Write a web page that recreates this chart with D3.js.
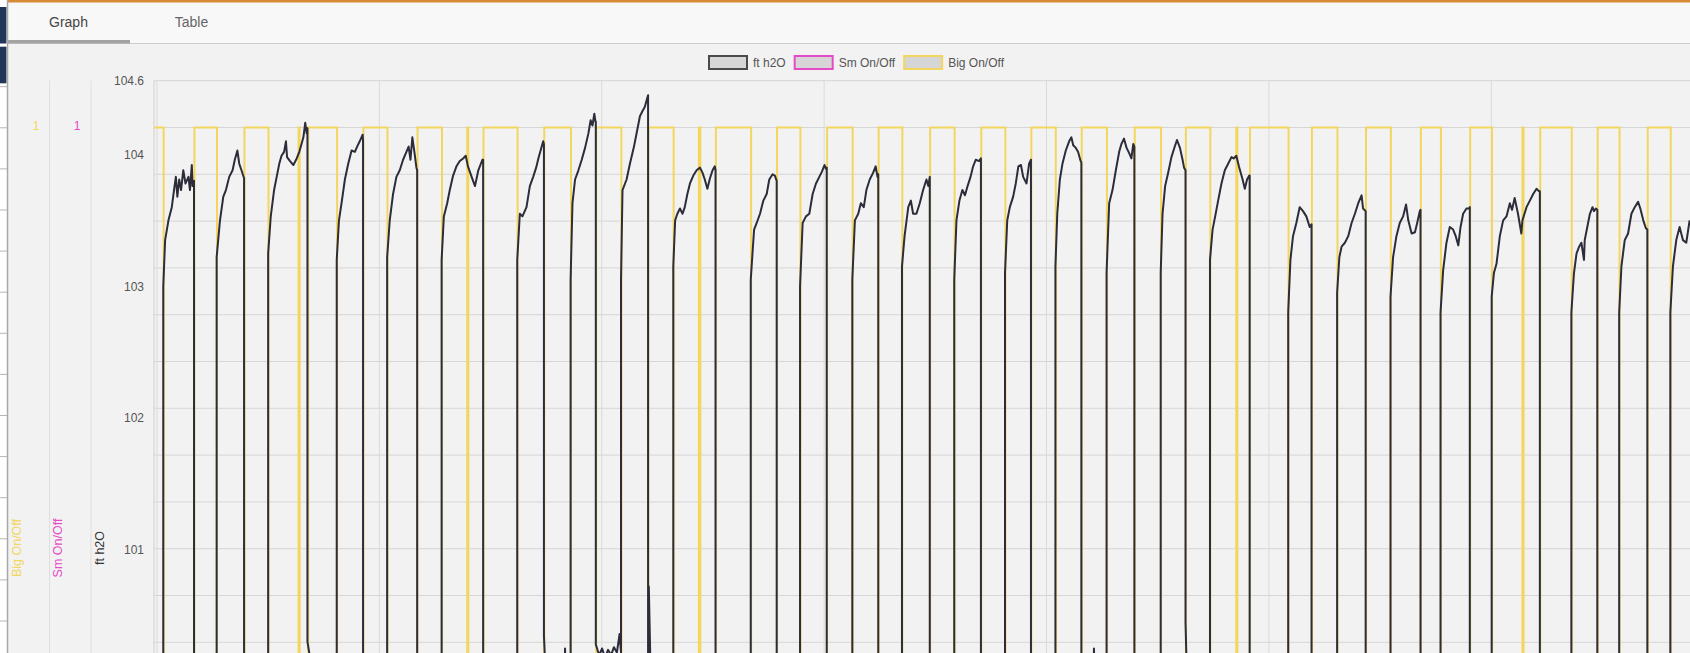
<!DOCTYPE html>
<html>
<head>
<meta charset="utf-8">
<script src="https://cdn.jsdelivr.net/npm/d3@7"></script>
<style>
body { margin: 0; background: #f2f2f2; overflow: hidden; font-family: "Liberation Sans", Arial, sans-serif; }
</style>
</head>
<body>
<svg id="chart" width="1690" height="653"></svg>
<script>
// series names + colours (legend order)
var categories = ["ft h2O", "Sm On/Off", "Big On/Off"];
var seriesColors = ["#2c2c3a", "#e64ac6", "#f3d65e"];
var tabs = ["Graph", "Table"];

// tick values
var ftTicks = [101, 102, 103, 104];
var onOffTicks = [1];
var timeTicks = [0, 60, 120, 180, 240, 300, 360, 420]; // minutes

// [minutes, ft h2O]
var ftH2O = [
    [-0.8, 99.9], [1.7, 99.9],
    [1.7, 103.0], [2.2, 103.35], [3.1, 103.5], [4.0, 103.6], [4.7, 103.75], [5.1, 103.83], [5.5, 103.68], [6.0, 103.81], [6.5, 103.73], [7.1, 103.88], [7.7, 103.78], [8.5, 103.83], [8.9, 103.73], [9.4, 103.92], [9.6, 103.76], [10.0, 103.8], [10.0, 99.9],
    [16.1, 99.9],
    [16.1, 103.22], [17.0, 103.5], [17.9, 103.68], [18.6, 103.73], [19.5, 103.83], [20.4, 103.88], [21.0, 103.96], [21.7, 104.03], [22.2, 103.93], [22.8, 103.88], [23.5, 103.82], [23.5, 99.9],
    [30.0, 99.9],
    [30.0, 103.25], [30.7, 103.53], [31.6, 103.73], [32.3, 103.83], [33.0, 103.93], [33.6, 103.99], [34.3, 104.02], [34.8, 104.1], [35.1, 103.98], [35.9, 103.95], [36.8, 103.92], [37.7, 103.97], [38.4, 104.02], [39.0, 104.08], [39.5, 104.13], [40.0, 104.24], [40.4, 104.16], [40.6, 104.2], [40.6, 100.3], [41.2, 100.2], [41.6, 99.9],
    [48.5, 99.9],
    [48.5, 103.2], [49.1, 103.5], [49.8, 103.63], [50.7, 103.81], [51.6, 103.93], [52.5, 104.03], [53.4, 104.02], [54.0, 104.06], [54.7, 104.1], [55.5, 104.15], [55.6, 104.1], [55.6, 99.9],
    [62.1, 99.9],
    [62.1, 103.22], [62.8, 103.5], [63.7, 103.7], [64.6, 103.83], [65.5, 103.88], [66.4, 103.96], [67.3, 104.02], [67.9, 104.06], [68.4, 103.96], [68.9, 104.13], [69.5, 104.01], [70.0, 103.9], [70.2, 103.88], [70.2, 99.9],
    [76.8, 99.9],
    [76.8, 103.2], [77.4, 103.53], [78.3, 103.63], [79.0, 103.73], [79.9, 103.84], [80.8, 103.91], [81.7, 103.95], [82.6, 103.97], [83.3, 103.99], [83.9, 103.91], [84.9, 103.83], [85.8, 103.76], [86.7, 103.88], [87.8, 103.96], [88.0, 103.96], [88.0, 99.9],
    [97.2, 99.9],
    [97.2, 103.2], [97.9, 103.55], [98.6, 103.53], [99.7, 103.6], [100.6, 103.76], [101.5, 103.83], [102.3, 103.9], [102.9, 103.97], [103.8, 104.06], [104.2, 104.1], [104.4, 104.08], [104.4, 100.35], [105.1, 99.9],
    [109.9, 99.9], [110.1, 100.25], [110.3, 99.9],
    [111.6, 99.9],
    [111.6, 103.05], [112.1, 103.63], [112.8, 103.81], [113.7, 103.88], [114.6, 103.96], [115.5, 104.05], [116.4, 104.16], [117.0, 104.26], [117.5, 104.22], [118.0, 104.31], [118.3, 104.25], [118.4, 104.25], [118.4, 100.28], [119.3, 100.2], [120.1, 100.25], [120.9, 100.18], [121.7, 100.24], [122.5, 100.2], [123.3, 100.26], [124.1, 100.22], [124.8, 100.36], [125.2, 100.22],
    [125.2, 103.05], [125.6, 103.73], [126.7, 103.81], [127.6, 103.93], [128.7, 104.06], [129.6, 104.19], [130.3, 104.29], [131.0, 104.33], [131.6, 104.36], [132.3, 104.43], [132.5, 104.45], [132.5, 99.9], [132.7, 100.72], [133.3, 99.9],
    [139.3, 99.9],
    [139.3, 103.15], [139.8, 103.5], [140.4, 103.55], [141.1, 103.59], [141.8, 103.55], [142.4, 103.6], [143.1, 103.7], [143.8, 103.78], [144.7, 103.84], [145.6, 103.88], [146.5, 103.9], [147.2, 103.86], [147.8, 103.81], [148.5, 103.74], [149.2, 103.82], [149.9, 103.88], [150.5, 103.91], [150.7, 103.88], [150.7, 99.9],
    [160.2, 99.9],
    [160.2, 103.05], [161.1, 103.43], [161.8, 103.48], [162.7, 103.55], [163.6, 103.65], [164.5, 103.7], [165.2, 103.81], [166.1, 103.85], [166.7, 103.84], [167.2, 103.8], [167.2, 99.9],
    [173.5, 99.9],
    [173.5, 103.0], [174.2, 103.48], [175.1, 103.53], [176.0, 103.55], [176.9, 103.7], [177.8, 103.78], [178.7, 103.83], [179.4, 103.87], [180.1, 103.92], [180.5, 103.89], [180.7, 103.9], [180.7, 99.9],
    [187.6, 99.9],
    [187.6, 103.05], [188.3, 103.5], [189.2, 103.55], [189.9, 103.63], [190.7, 103.6], [191.4, 103.73], [192.3, 103.81], [193.2, 103.86], [193.9, 103.91], [194.4, 103.83], [194.6, 103.85], [194.6, 99.9],
    [201.0, 99.9],
    [201.0, 103.15], [201.7, 103.38], [202.7, 103.6], [203.4, 103.65], [204.0, 103.55], [204.9, 103.55], [205.8, 103.63], [206.7, 103.73], [207.6, 103.81], [208.1, 103.76], [208.5, 103.83], [208.5, 99.9],
    [215.1, 99.9],
    [215.1, 103.05], [215.7, 103.5], [216.5, 103.65], [217.3, 103.73], [218.0, 103.69], [218.7, 103.76], [219.5, 103.83], [220.2, 103.91], [220.9, 103.96], [221.8, 103.95], [222.3, 103.97], [222.3, 99.9],
    [228.8, 99.9],
    [228.8, 103.1], [229.4, 103.5], [230.1, 103.6], [231.0, 103.68], [231.7, 103.78], [232.4, 103.91], [233.1, 103.92], [233.7, 103.83], [234.6, 103.78], [235.3, 103.93], [235.8, 103.96], [235.8, 99.9],
    [242.4, 99.9],
    [242.4, 103.15], [242.9, 103.55], [243.6, 103.81], [244.3, 103.93], [245.2, 104.03], [246.1, 104.1], [246.7, 104.13], [247.2, 104.07], [247.9, 104.05], [248.5, 104.02], [249.2, 103.95], [249.4, 103.94], [249.4, 99.9],
    [252.6, 99.9], [252.8, 100.25], [253.0, 99.9],
    [256.2, 99.9],
    [256.2, 103.1], [256.9, 103.63], [257.8, 103.73], [258.7, 103.88], [259.6, 104.02], [260.2, 104.08], [260.9, 104.12], [261.6, 104.05], [262.3, 104.01], [262.9, 103.97], [263.4, 104.08], [263.7, 104.06], [263.7, 99.9],
    [270.8, 99.9],
    [270.8, 103.1], [271.3, 103.55], [272.0, 103.76], [272.8, 103.86], [273.7, 103.98], [274.6, 104.06], [275.2, 104.11], [276.0, 104.05], [276.7, 103.96], [277.1, 103.9], [277.5, 103.88], [277.5, 100.45], [278.0, 99.9],
    [284.1, 99.9],
    [284.1, 103.2], [284.8, 103.43], [285.5, 103.53], [286.3, 103.65], [287.2, 103.78], [288.1, 103.88], [289.0, 103.93], [289.9, 103.98], [290.5, 103.97], [291.2, 103.99], [291.9, 103.91], [292.9, 103.81], [293.5, 103.74], [294.1, 103.81], [294.7, 103.84], [294.8, 103.84], [294.8, 99.9],
    [305.2, 99.9],
    [305.2, 102.8], [305.8, 103.2], [306.5, 103.38], [307.4, 103.48], [308.3, 103.6], [309.2, 103.57], [310.1, 103.53], [311.0, 103.45], [311.5, 103.47], [311.5, 99.9],
    [318.4, 99.9],
    [318.4, 102.95], [319.0, 103.22], [319.6, 103.3], [320.5, 103.33], [321.4, 103.38], [322.3, 103.48], [323.2, 103.55], [324.1, 103.63], [325.0, 103.69], [325.4, 103.59], [326.1, 103.57], [326.1, 99.9],
    [332.8, 99.9],
    [332.8, 102.92], [333.5, 103.22], [334.4, 103.38], [335.3, 103.48], [336.2, 103.53], [337.0, 103.62], [337.6, 103.5], [338.5, 103.4], [339.4, 103.41], [340.0, 103.48], [340.7, 103.57], [340.9, 103.58], [340.9, 99.9],
    [346.3, 99.9],
    [346.3, 102.8], [347.0, 103.12], [347.9, 103.33], [348.8, 103.45], [349.7, 103.43], [350.4, 103.38], [351.1, 103.31], [351.7, 103.45], [352.4, 103.55], [353.3, 103.59], [354.0, 103.59], [354.2, 103.6], [354.2, 99.9],
    [360.1, 99.9],
    [360.1, 102.92], [360.7, 103.1], [361.4, 103.17], [362.3, 103.38], [363.2, 103.5], [364.1, 103.53], [365.0, 103.63], [365.6, 103.58], [366.3, 103.67], [367.2, 103.55], [368.1, 103.4], [368.4, 103.5], [369.5, 103.6], [370.4, 103.65], [371.3, 103.7], [372.2, 103.74], [372.9, 103.72], [373.1, 103.72], [373.1, 99.9],
    [381.6, 99.9],
    [381.6, 102.8], [382.3, 103.1], [383.0, 103.25], [383.7, 103.3], [384.3, 103.33], [385.0, 103.2], [385.2, 103.35], [385.9, 103.45], [386.6, 103.55], [387.3, 103.6], [387.7, 103.57], [388.2, 103.59], [388.6, 103.58], [388.6, 99.9],
    [394.5, 99.9],
    [394.5, 102.8], [395.1, 103.15], [396.0, 103.35], [396.9, 103.4], [397.8, 103.55], [398.7, 103.6], [399.6, 103.64], [400.2, 103.59], [401.0, 103.5], [401.7, 103.44], [402.1, 103.43], [402.1, 99.9],
    [408.3, 99.9],
    [408.3, 102.8], [409.0, 103.15], [409.9, 103.35], [410.8, 103.45], [411.7, 103.35], [412.6, 103.33], [413.5, 103.5]
];

// [minutes, 0/1] step changes
var smOnOff = [[-0.8, 0], [421.7, 0]];
var bigOnOff = [
    [-0.8, 1], [1.8, 0], [10.1, 1], [16.2, 0], [23.6, 1], [30.1, 0], [38.2, 1], [38.5, 0], [40.8, 1], [48.6, 0],
    [55.7, 1], [62.2, 0], [70.3, 1], [76.9, 0], [83.7, 1], [84.0, 0], [88.1, 1], [97.3, 0], [104.5, 1], [111.7, 0],
    [118.5, 1], [125.3, 0], [132.6, 1], [139.4, 0], [146.2, 1], [146.6, 0], [150.8, 1], [160.3, 0], [167.3, 1], [173.6, 0],
    [180.8, 1], [187.7, 0], [194.7, 1], [201.1, 0], [208.6, 1], [215.2, 0], [222.4, 1], [228.9, 0], [235.9, 1], [242.5, 0],
    [249.5, 1], [256.3, 0], [263.8, 1], [270.9, 0], [277.6, 1], [284.2, 0], [291.2, 1], [291.5, 0], [294.9, 1], [305.3, 0],
    [311.6, 1], [318.5, 0], [326.2, 1], [332.9, 0], [341.0, 1], [346.4, 0], [354.3, 1], [360.2, 0], [368.4, 1], [368.7, 0],
    [373.2, 1], [381.7, 0], [388.7, 1], [394.6, 0], [402.2, 1], [408.4, 0], [421.7, 0]
];

var W = 1690, H = 653;
var plot = { left: 154, top: 80.7, right: 1720, bottom: 1063.5 };

var svg = d3.select("#chart");

var x = d3.scaleLinear().domain([-0.8, 421.7]).range([plot.left, plot.right]);
var yFt = d3.scaleLinear().domain([97.1, 104.56]).range([plot.bottom, plot.top]);
var yOn = d3.scaleLinear().domain([0, 1.05]).range([plot.bottom, plot.top]);

// ---- page chrome: tab bar + side strip
svg.append("rect").attr("width", W).attr("height", 43.5).attr("fill", "#f8f8f8");
svg.append("rect").attr("width", W).attr("height", 2.5).attr("fill", "#d98a35");
svg.append("line").attr("x1", 7).attr("x2", W).attr("y1", 43.5).attr("y2", 43.5)
    .attr("stroke", "#cdcdcd").attr("stroke-width", 1);
svg.append("rect").attr("x", 7).attr("y", 40).attr("width", 123).attr("height", 3.5).attr("fill", "#a3a3a3");
svg.selectAll("text.tab").data(tabs).join("text")
    .attr("class", "tab")
    .attr("x", (d, i) => i ? 191.5 : 68.5)
    .attr("y", 22)
    .attr("dy", "0.35em")
    .attr("text-anchor", "middle")
    .attr("font-size", 14)
    .attr("fill", (d, i) => i ? "#666" : "#444")
    .text(d => d);

svg.append("rect").attr("width", 7).attr("height", H).attr("fill", "#fff");
svg.append("rect").attr("y", 7).attr("width", 6.5).attr("height", 36.5).attr("fill", "#1f3658");
svg.append("rect").attr("y", 46.7).attr("width", 6.5).attr("height", 36.6).attr("fill", "#1f3658");
svg.selectAll("line.side").data(d3.range(86.7, H, 41.1)).join("line")
    .attr("class", "side")
    .attr("x1", 0).attr("x2", 7).attr("y1", d => d).attr("y2", d => d)
    .attr("stroke", "#b5b5b5");
svg.append("line").attr("x1", 7.5).attr("x2", 7.5).attr("y1", 0).attr("y2", H)
    .attr("stroke", "#a8a8a8").attr("stroke-width", 1.5);

// separators between the stacked y axes
[49.5, 91].forEach(function (sx) {
    svg.append("line").attr("x1", sx).attr("x2", sx).attr("y1", plot.top).attr("y2", H)
        .attr("stroke", "#dedede");
});

// ---- grid
var grid = svg.append("g");
grid.selectAll("line.h").data(d3.range(0, 22).map(i => i * 0.05)).join("line")
    .attr("class", "h")
    .attr("x1", plot.left).attr("x2", W)
    .attr("y1", d => yOn(d)).attr("y2", d => yOn(d))
    .attr("stroke", "#d6d6d6");
grid.selectAll("line.v").data(timeTicks).join("line")
    .attr("class", "v")
    .attr("x1", d => x(d)).attr("x2", d => x(d))
    .attr("y1", plot.top).attr("y2", H)
    .attr("stroke", "#dadada");
grid.append("line").attr("x1", plot.left).attr("x2", plot.left).attr("y1", plot.top).attr("y2", H)
    .attr("stroke", "#cfcfcf");

// ---- axes
var ftAxis = svg.append("g")
    .attr("transform", "translate(146,0)")
    .call(d3.axisLeft(yFt).tickValues(ftTicks.concat(yFt.domain()[1])).tickFormat(d3.format(".1~f")).tickSize(0).tickPadding(2));
ftAxis.select(".domain").remove();
ftAxis.selectAll("text").attr("fill", "#555").attr("font-size", 12)
    .attr("font-family", "'Liberation Sans', Arial, sans-serif");

[[36, seriesColors[2]], [77, seriesColors[1]]].forEach(function (a) {
    var g = svg.append("g")
        .attr("transform", "translate(" + a[0] + ",0)")
        .call(d3.axisLeft(yOn).tickValues(onOffTicks).tickFormat(d3.format("d")).tickSize(0).tickPadding(0));
    g.select(".domain").remove();
    g.selectAll("text").attr("text-anchor", "middle").attr("fill", a[1]).attr("font-size", 12)
        .attr("y", -2)
        .attr("font-family", "'Liberation Sans', Arial, sans-serif");
});

// rotated axis titles
[[17, categories[2], seriesColors[2]], [58, categories[1], seriesColors[1]], [100, categories[0], "#333"]]
    .forEach(function (t) {
        svg.append("text")
            .attr("transform", "translate(" + t[0] + ",548) rotate(-90)")
            .attr("text-anchor", "middle")
            .attr("dy", "0.35em")
            .attr("font-size", 12.5)
            .attr("fill", t[2])
            .text(t[1]);
    });

// ---- series
svg.append("clipPath").attr("id", "clip")
    .append("rect")
    .attr("x", plot.left).attr("y", plot.top - 2)
    .attr("width", plot.right - plot.left).attr("height", plot.bottom - plot.top + 2);

var series = svg.append("g").attr("clip-path", "url(#clip)");

var lineFt = d3.line().x(d => x(d[0])).y(d => yFt(d[1]));
var lineOn = d3.line().x(d => x(d[0])).y(d => yOn(d[1])).curve(d3.curveStepAfter);

// on/off steps first, level line on top
series.append("path").datum(smOnOff)
    .attr("d", lineOn)
    .attr("fill", "none")
    .attr("stroke", seriesColors[1])
    .attr("stroke-width", 2);
series.append("path").datum(bigOnOff)
    .attr("d", lineOn)
    .attr("fill", "none")
    .attr("stroke", seriesColors[2])
    .attr("stroke-width", 2);
series.append("path").datum(ftH2O)
    .attr("d", lineFt)
    .attr("fill", "none")
    .attr("stroke", seriesColors[0])
    .attr("stroke-width", 2)
    .attr("stroke-linejoin", "round");

// ---- legend
var legend = svg.append("g").attr("transform", "translate(708,55)");
var lx = 0;
categories.forEach(function (name, i) {
    var item = legend.append("g").attr("transform", "translate(" + lx + ",0)");
    item.append("rect")
        .attr("x", 1).attr("y", 1)
        .attr("width", 38).attr("height", 13)
        .attr("fill", "#d6d6d6")
        .attr("stroke", i === 0 ? "#4a4a4a" : seriesColors[i])
        .attr("stroke-width", 2);
    var t = item.append("text")
        .attr("x", 45).attr("y", 7.5)
        .attr("dy", "0.35em")
        .attr("font-size", 12)
        .attr("fill", "#555")
        .text(name);
    lx += 45 + t.node().getComputedTextLength() + 8;
});
</script>
</body>
</html>
